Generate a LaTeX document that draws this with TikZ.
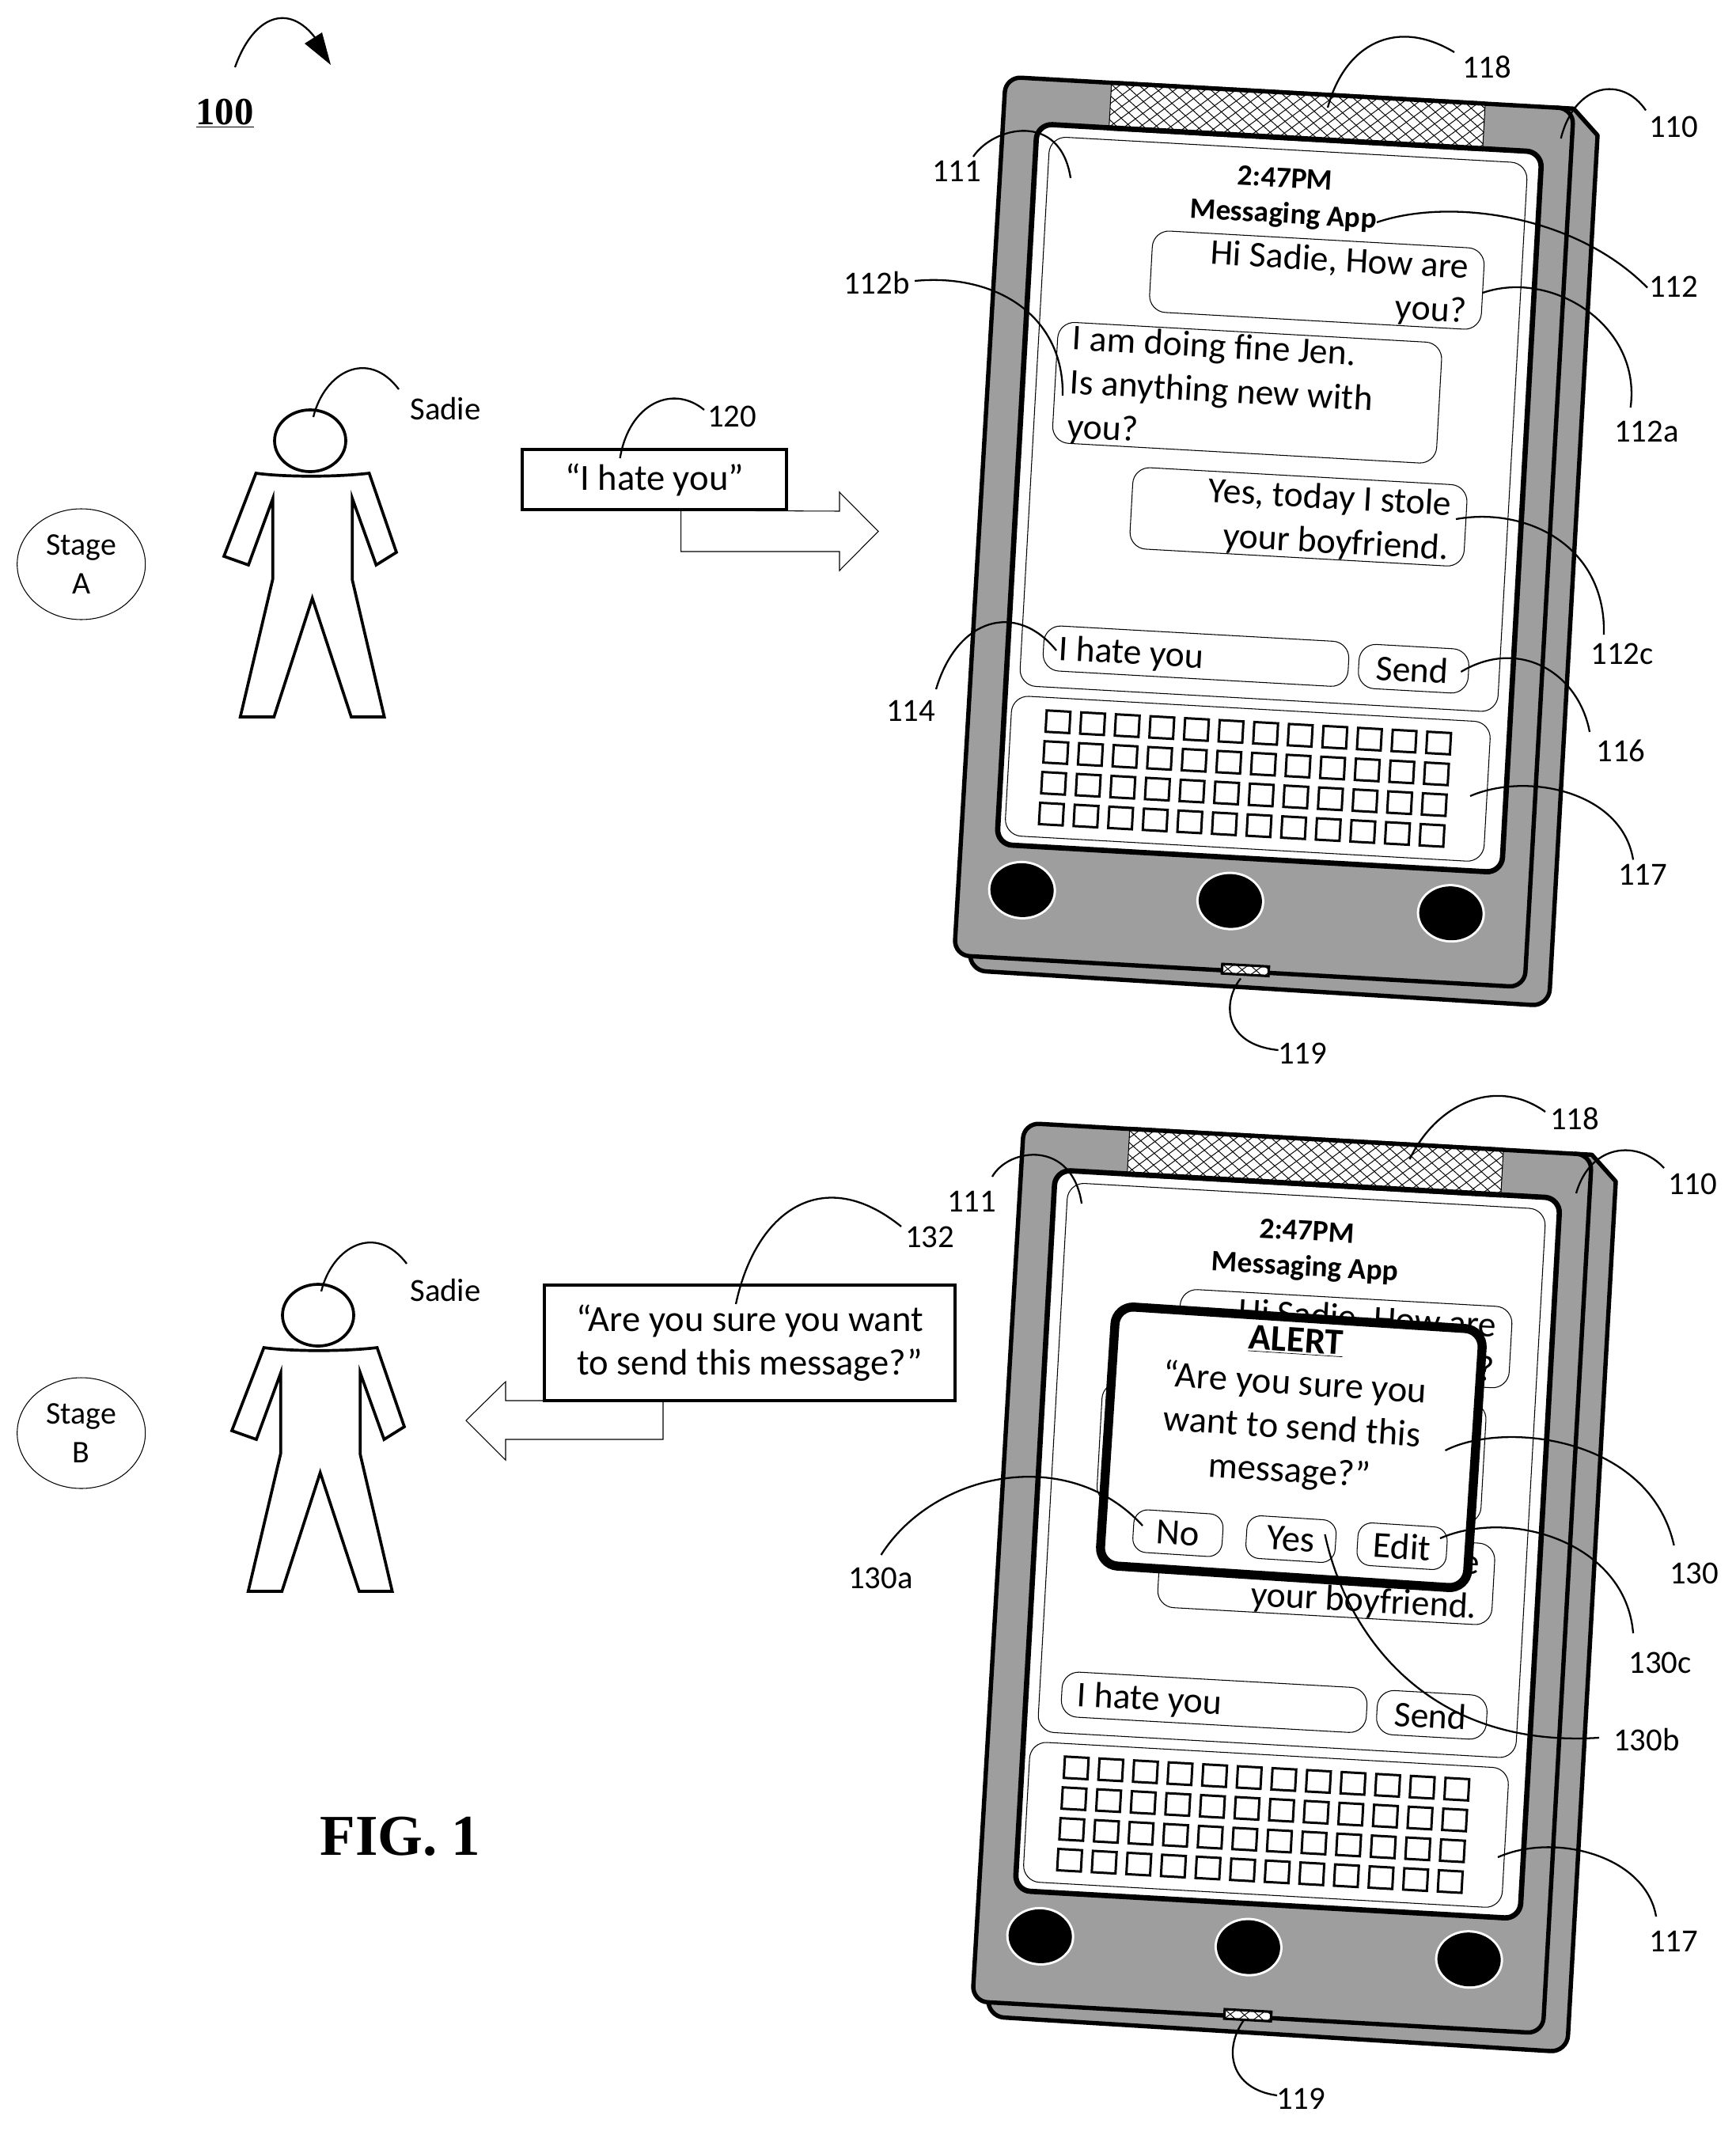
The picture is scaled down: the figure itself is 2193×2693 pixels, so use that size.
\documentclass[tikz,border=0pt]{standalone}
\usepackage{fontspec}
\setmainfont{Carlito}
\newfontfamily\serifbold[BoldFont={Liberation Serif Bold}]{Liberation Serif}
\usetikzlibrary{shapes.geometric}
\newdimen\pxu \pxu=.02cm
\newcommand\fLab{\fontsize{23.2}{28}\selectfont}
\newcommand\fMsg{\fontsize{26}{31.7}\selectfont}
\newcommand\fBig{\fontsize{26.5}{31.5}\selectfont}
\newcommand\fHead{\fontsize{21.3}{26}\selectfont\bfseries}
\definecolor{bodygray}{gray}{0.62}
\tikzset{
  thinline/.style={draw=black,line width=0.6pt},
  bubble/.style={thinline,fill=white,rounded corners=12pt},
  msgtext/.style={font=\fMsg,inner sep=0pt,text=black},
  headtext/.style={font=\fHead,inner sep=0pt},
  bigtext/.style={font=\fBig,inner sep=0pt,align=center},
  labeltext/.style={font=\fLab,inner sep=0pt,xshift=1.7pt,yshift=-1.4pt},
  leaderline/.style={draw=black,line width=1.3pt},
  bodyline/.style={draw=black,line width=3.1pt,fill=bodygray,line join=round},
  screenline/.style={draw=black,line width=3.8pt,fill=white,rounded corners=11pt},
  keyline/.style={draw=black,line width=1.7pt},
  hatchline/.style={draw=black,line width=0.55pt},
  personline/.style={draw=black,line width=2.1pt,line join=miter},
  boxline/.style={draw=black,line width=2.3pt,fill=white,inner sep=0pt,align=center},
  blockarrow/.style={thinline,fill=white},
  stagecircle/.style={shape=ellipse,thinline,inner sep=0pt,align=center,font=\fontsize{22.7}{27.8}\selectfont},
  alertbutton/.style={thinline,fill=white,rounded corners=10pt,font=\fBig,inner sep=0pt,rotate=-3.6,minimum width=113*\pxu,minimum height=54*\pxu},
}
\newcommand\hatchbox[4]{%
  \begin{scope}
    \clip (#1,#2) rectangle (#3,#4);
    \fill[white] (#1,#2) rectangle (#3,#4);
    \pgfmathsetmacro\hatchdd{(#4-#2)*1.21}
    \pgfmathsetmacro\hatchhh{#4-#2}
    \foreach \k in {-108,-90,...,720}{
      \draw[hatchline] ({#1+\k},#2) -- ++(\hatchdd,\hatchhh);
      \draw[hatchline] ({#1+\k},#4) -- ++(\hatchdd,-\hatchhh);
    }
  \end{scope}}
% prefix, ox, oy, bubble du, bubble dv, head du, head dv, connector du, middle bubble shift
\newcommand\phone[9]{%
\begin{scope}[shift={(#2,#3)},rotate=-3.2,transform shape]
  % back layer
  \draw[bodyline] (700,0) -- (722,0) -- (754,32) [rounded corners=12pt] -- (754,1134) -- (20,1130) [sharp corners] -- (20,1000) -- cycle;
  % front layer
  \draw[bodyline,rounded corners=11pt] (3,0) -- (722,0) -- (722,1112) -- (0,1112) -- cycle;
  % screen
  \draw[screenline] (46,57) rectangle (685,969);
  \hatchbox{137}{2}{610}{56}
  \draw[draw=black,line width=0.6pt] (137,0) -- (137,57) (610,0) -- (610,57);
  \draw[draw=black,line width=3.1pt] (137,0) -- (610,0);
  \draw[draw=black,line width=3.8pt] (137,57) -- (610,57);
  % panels
  \draw[bubble] (63,72) rectangle (668,767);
  \draw[bubble] (55,780) rectangle (661,957);
  % bubbles
  \begin{scope}[shift={(#4,#5)}]
    \draw[bubble] (200,183) rectangle (620,286);
    \draw[bubble] (192,483) rectangle (615,586);
    \node[msgtext,anchor=east,align=right] (#1-b1) at (601,237.7) {Hi Sadie, How are\\you?};
    \node[msgtext,anchor=east,align=right] (#1-b3) at (596,538) {Yes, today I stole\\your boyfriend.};
  \end{scope}
  \begin{scope}[shift={(#9)}]
    \draw[bubble] (87,305) rectangle (573,458);
    \node[msgtext,anchor=west,align=left] (#1-b2) at (105.5,383) {I am doing fine Jen.\\Is anything new with\\you?};
  \end{scope}
  \node[headtext] (#1-time) at ({363+#6},{108+#7}) {2:47PM};
  \node[headtext] (#1-app) at ({363+#6},{155+#7}) {Messaging App};
  % input row
  \draw[bubble] (91,689) rectangle (477,746);
  \draw[bubble] (490,690) rectangle (629,746);
  \node[msgtext,anchor=west] (#1-in) at (110,720) {I hate you};
  \node[msgtext] (#1-send) at (558,719) {Send};
  % keys
  \foreach \r in {0,...,3}{\foreach \c in {0,...,11}{
    \draw[keyline] ({114.5+43.8*\c-0.6*\r-15},{810+39*\r-13.5}) rectangle ++(30,27);
  }}
  % buttons
  \foreach \u/\v in {81/1025,344.6/1024,623.8/1024}{
    \fill[white] (\u,\v) ellipse [x radius=43,y radius=37];
    \fill[black] (\u,\v) ellipse [x radius=40,y radius=34];
  }
  % connector
  \hatchbox{339+#8}{1104}{398+#8}{1116}
  \draw[draw=black,line width=1.8pt] ({339+#8},1104) rectangle ({398+#8},1116);
\end{scope}}
\newcommand\person[2]{%
\begin{scope}[shift={(#1,#2)}]
  \draw[personline] (392,557) ellipse [x radius=45,y radius=39];
  \draw[personline] (323.5,598) .. controls (360,603) and (425,603) .. (466.6,598) -- (501,698) -- (475.4,714) -- (445.3,630) -- (445.3,733) -- (485.7,906) -- (443.9,906) -- (394.7,756) -- (346.3,906) -- (303.7,906) -- (344.8,731.5) -- (344.8,630) -- (314,714) -- (283,703) -- cycle;
\end{scope}}
\newcommand\leader[5]{%
  \coordinate (#1-s) at (#2);
  \coordinate (#1-e) at (#5);
  \draw[leaderline] (#1-s) .. controls (#3) and (#4) .. (#1-e);}
\begin{document}
\begin{tikzpicture}[x=.02cm,y=-.02cm]
\useasboundingbox (0,0) rectangle (2193,2693);
\fill[white] (0,0) rectangle (2193,2693);

% --- reference 100
\coordinate (arrow100-s) at (297,85);
\coordinate (arrow100-e) at (400,50);
\draw[leaderline] (arrow100-s) .. controls (320,20) and (365,2) .. (arrow100-e);
\fill[black] (407,41) -- (385,55) -- (418,82) -- cycle;
\node[inner sep=0pt,font=\fontsize{27.7}{32}\selectfont\serifbold\bfseries] (n100) at (284,143) {\underline{100}};

% --- phones
\phone{a}{1268}{97}{0}{0}{0}{0}{0}{0,0}
\phone{b}{1291}{1419}{13}{15}{5}{8}{-20}{34,16}

% --- stage A left
\node[stagecircle,minimum width=162*\pxu,minimum height=140*\pxu] (stageA) at (102.7,713) {Stage\\A};
\person{0}{0}
\node[labeltext] (sadieA) at (560,514) {Sadie};
\draw[blockarrow] (860.6,645) -- (860.6,697) -- (1061,697) -- (1061,721) -- (1110,671.5) -- (1061,622) -- (1061,646) -- cycle;
\node[boxline,font=\fBig,minimum width=334*\pxu,minimum height=75.5*\pxu] (quoteA) at (827,606) {\raisebox{-2pt}{“I hate you”}};

% --- stage B left
\node[stagecircle,minimum width=162*\pxu,minimum height=140*\pxu] (stageB) at (102.7,1811) {Stage\\B};
\person{10}{1105}
\node[labeltext] (sadieB) at (560,1628) {Sadie};
\draw[blockarrow] (838,1766) -- (838,1819) -- (639,1819) -- (639,1845) -- (589,1795) -- (639,1746) -- (639,1770) -- (685,1770) -- cycle;
\node[boxline,font=\fBig,minimum width=519*\pxu,minimum height=146*\pxu] (quoteB) at (947.5,1697) {“Are you sure you want\\to send this message?”};

% --- alert
\draw[draw=black,line width=6.5pt,fill=white,rounded corners=13pt,rotate around={-3.7:(1632,1829)}] (1399.5,1665) rectangle (1864.5,1993);
\node[bigtext,rotate=-3.7] (alerttitle) at (1638,1695) {\bfseries\underline{ALERT}};
\node[bigtext,rotate=-3.7] (alerttext) at (1633,1805) {“Are you sure you\\want to send this\\message?”};
\node[alertbutton] (btnNo) at (1488.7,1937.5) {No};
\node[alertbutton] (btnYes) at (1631.6,1945) {Yes};
\node[alertbutton] (btnEdit) at (1772,1954) {Edit};

% --- labels stage A
\node[labeltext] (l118a) at (1876,82) {118};
\node[labeltext] (l110a) at (2112,158) {110};
\node[labeltext] (l111a) at (1206,214) {111};
\node[labeltext] (l112a0) at (2112,360) {112};
\node[labeltext] (l112aa) at (2078,543) {112a};
\node[labeltext] (l112ab) at (1105,355) {112b};
\node[labeltext] (l112ac) at (2047,824) {112c};
\node[labeltext] (l114a) at (1148,896) {114};
\node[labeltext] (l116a) at (2045.5,946) {116};
\node[labeltext] (l117a) at (2073,1103) {117};
\node[labeltext] (l119a) at (1643,1329) {119};
\node[labeltext] (l120) at (922,524) {120};
% --- labels stage B
\node[labeltext] (l118b) at (1987,1411.5) {118};
\node[labeltext] (l110b) at (2136,1494) {110};
\node[labeltext] (l111b) at (1225,1516) {111};
\node[labeltext] (l130) at (2138,1985.5) {130};
\node[labeltext] (l130a) at (1110,1992) {130a};
\node[labeltext] (l130b) at (2078,2196) {130b};
\node[labeltext] (l130c) at (2095,2098.6) {130c};
\node[labeltext] (l132) at (1172,1561) {132};
\node[labeltext] (l117b) at (2112,2451) {117};
\node[labeltext] (l119b) at (1641,2650) {119};
\node[inner sep=0pt,font=\fontsize{41.6}{46}\selectfont\serifbold\bfseries] (fig) at (506,2321) {FIG. 1};

% --- leaders stage A
\leader{la118}{1678,136}{1700,55}{1765,22}{1838,66}
\leader{la110}{1972.7,175}{1990,105}{2050,95}{2080,139.5}
\leader{la111}{1230,198}{1255,160}{1340,140}{1353,225}
\leader{la112}{1740,281}{1830,250}{1990,270}{2082,363.6}
\leader{la112a}{1874,370}{1960,340}{2075,410}{2060.7,515}
\leader{la112b}{1156,355}{1260,345}{1345,400}{1343,500}
\leader{la112c}{1840,656}{1930,640}{2030,690}{2027,802}
\leader{la114}{1183,871}{1210,780}{1285,760}{1335,822}
\leader{la116}{1846.4,849}{1920,805}{1995,850}{2009,925}
\leader{la117}{1858,1006}{1930,975}{2050,1000}{2064,1086.5}
\leader{la119}{1568,1236.5}{1545,1265}{1545,1320}{1615.6,1327}
\leader{lasadie}{396,527}{410,470}{465,440}{504,492}
\leader{la120}{783.6,579}{795,510}{850,485}{890,518}
% --- leaders stage B
\leader{lb118}{1781.5,1465}{1815,1395}{1890,1360}{1953,1405}
\leader{lb110}{1992,1508}{2010,1445}{2070,1440}{2103,1476}
\leader{lb111}{1254,1487}{1275,1450}{1355,1440}{1367,1521}
\leader{lb130}{1826.5,1833}{1900,1795}{2085,1815}{2115.6,1953}
\leader{lb130c}{1820,1944}{1910,1905}{2055,1950}{2064,2064}
\leader{lb130a}{1113.5,1965}{1180,1860}{1350,1825}{1444,1928}
\leader{lb130b}{1674.5,1939}{1700,2060}{1800,2210}{2021,2196}
\leader{lb132}{930,1648}{955,1530}{1040,1470}{1139,1550}
\leader{lb117}{1893,2347}{1965,2315}{2080,2345}{2093,2422}
\leader{lb119}{1572.6,2552}{1545,2590}{1555,2640}{1614,2648}
\leader{lbsadie}{406,1632}{420,1575}{475,1545}{514,1597}
\end{tikzpicture}
\end{document}
